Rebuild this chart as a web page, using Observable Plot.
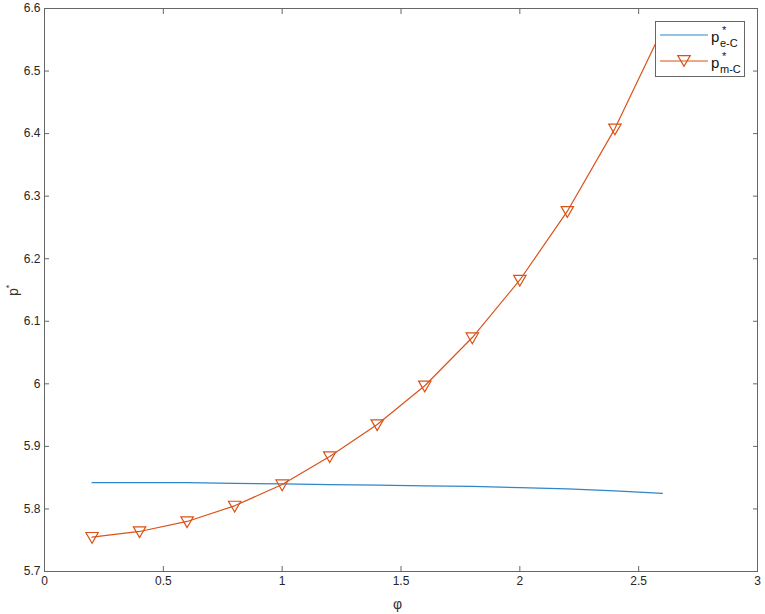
<!DOCTYPE html>
<html><head><meta charset="utf-8">
<script src="https://cdn.jsdelivr.net/npm/d3@7"></script>
<script src="https://cdn.jsdelivr.net/npm/@observablehq/plot@0.6"></script>
<style>
body{margin:0;background:#fff;font-family:"Liberation Sans",Arial,sans-serif;}
#wrap{position:relative;width:765px;height:614px;}
#legend{position:absolute;left:655px;top:21px;width:90px;height:56px;border:1px solid #666;background:#fff;box-sizing:border-box;color:#111}
.t{position:absolute;white-space:nowrap;line-height:1}
#ylab{position:absolute;left:7px;top:282px;transform:rotate(-90deg);transform-origin:center;font-size:14px;color:#333;white-space:nowrap}
#xlab{position:absolute;left:393px;top:596px;font-size:14px;color:#333}
</style></head><body><div id="wrap"></div>
<script>
const phi = [0.2, 0.4, 0.6, 0.8, 1.0, 1.2, 1.4, 1.6, 1.8, 2.0, 2.2, 2.4, 2.6];
const pEC = [5.842, 5.842, 5.842, 5.841, 5.840, 5.839, 5.838, 5.837, 5.836, 5.834, 5.832, 5.829, 5.825];
const pMC = [5.755, 5.764, 5.780, 5.805, 5.839, 5.884, 5.935, 5.997, 6.074, 6.166, 6.276, 6.408, 6.567];
const xTicks = [0, 0.5, 1, 1.5, 2, 2.5, 3];
const yTicks = [5.7, 5.8, 5.9, 6.0, 6.1, 6.2, 6.3, 6.4, 6.5, 6.6];
const seriesNames = ["e-C", "m-C"];
const blue = "#2F86C9", red = "#D95319";

const data = phi.map((x, i) => ({x, e: pEC[i], m: pMC[i]}));
const fmt = d => String(d);
const ax = {stroke: "#666", fill: "#262626", fontSize: 12, label: null};

const chart = Plot.plot({
  width: 765, height: 614,
  marginLeft: 44, marginRight: 8, marginTop: 8, marginBottom: 43,
  style: {fontFamily: "Liberation Sans, Arial, sans-serif", fontSize: "12px", background: "white"},
  x: {domain: [0, 3]},
  y: {domain: [5.7, 6.6]},
  marks: [
    Plot.frame({stroke: "#666"}),
    Plot.axisX({...ax, ticks: xTicks, tickSize: -5, tickPadding: 10, tickFormat: fmt}),
    Plot.axisX({...ax, anchor: "top", ticks: xTicks, tickSize: -5, tickFormat: () => ""}),
    Plot.axisY({...ax, ticks: yTicks, tickSize: -5, tickPadding: 9, tickFormat: fmt}),
    Plot.axisY({...ax, anchor: "right", ticks: yTicks, tickSize: -5, tickFormat: () => ""}),
    Plot.line(data, {x: "x", y: "e", stroke: blue, strokeWidth: 1.2}),
    Plot.line(data, {x: "x", y: "m", stroke: red, strokeWidth: 1.2}),
    Plot.dot(data, {x: "x", y: "m", symbol: "triangle", rotate: 180, r: 4.6, stroke: red, fill: "none", strokeWidth: 1.2, dy: -1})
  ]
});

const wrap = document.getElementById("wrap");
wrap.appendChild(chart);

const ylab = document.createElement("div");
ylab.id = "ylab";
ylab.innerHTML = 'p<sup style="font-size:9px">*</sup>';
wrap.appendChild(ylab);

const xlab = document.createElement("div");
xlab.id = "xlab";
xlab.textContent = "φ";
wrap.appendChild(xlab);

// legend
const lg = document.createElement("div");
lg.id = "legend";
const ns = "http://www.w3.org/2000/svg";
const svg = document.createElementNS(ns, "svg");
svg.setAttribute("width", 88); svg.setAttribute("height", 54);
svg.style.position = "absolute"; svg.style.left = "0"; svg.style.top = "0";
const cols = [blue, red];
seriesNames.forEach((name, i) => {
  const yy = 13 + i * 26;
  const l = document.createElementNS(ns, "line");
  l.setAttribute("x1", 4); l.setAttribute("x2", 52);
  l.setAttribute("y1", yy); l.setAttribute("y2", yy);
  l.setAttribute("stroke", cols[i]); l.setAttribute("stroke-width", 1.2);
  svg.appendChild(l);
  if (i === 1) {
    const p = document.createElementNS(ns, "path");
    const s = 12.5, h = s * Math.sqrt(3) / 2;
    p.setAttribute("d", `M${28 - s/2},${yy - h/2}L${28 + s/2},${yy - h/2}L28,${yy + h/2}Z`);
    p.setAttribute("fill", "none"); p.setAttribute("stroke", red); p.setAttribute("stroke-width", 1.2);
    svg.appendChild(p);
  }
  const pt = document.createElement("div");
  pt.className = "t"; pt.style.fontSize = "15px"; pt.style.left = "55px"; pt.style.top = (yy - 6) + "px";
  pt.textContent = "p";
  const st = document.createElement("div");
  st.className = "t"; st.style.fontSize = "11px"; st.style.left = "66px"; st.style.top = (yy - 10) + "px";
  st.textContent = "*";
  const sb = document.createElement("div");
  sb.className = "t"; sb.style.fontSize = "11px"; sb.style.left = "64px"; sb.style.top = (yy + 3) + "px";
  sb.textContent = name;
  lg.appendChild(pt); lg.appendChild(st); lg.appendChild(sb);
});
lg.insertBefore(svg, lg.firstChild);
wrap.appendChild(lg);
</script>
</body></html>
